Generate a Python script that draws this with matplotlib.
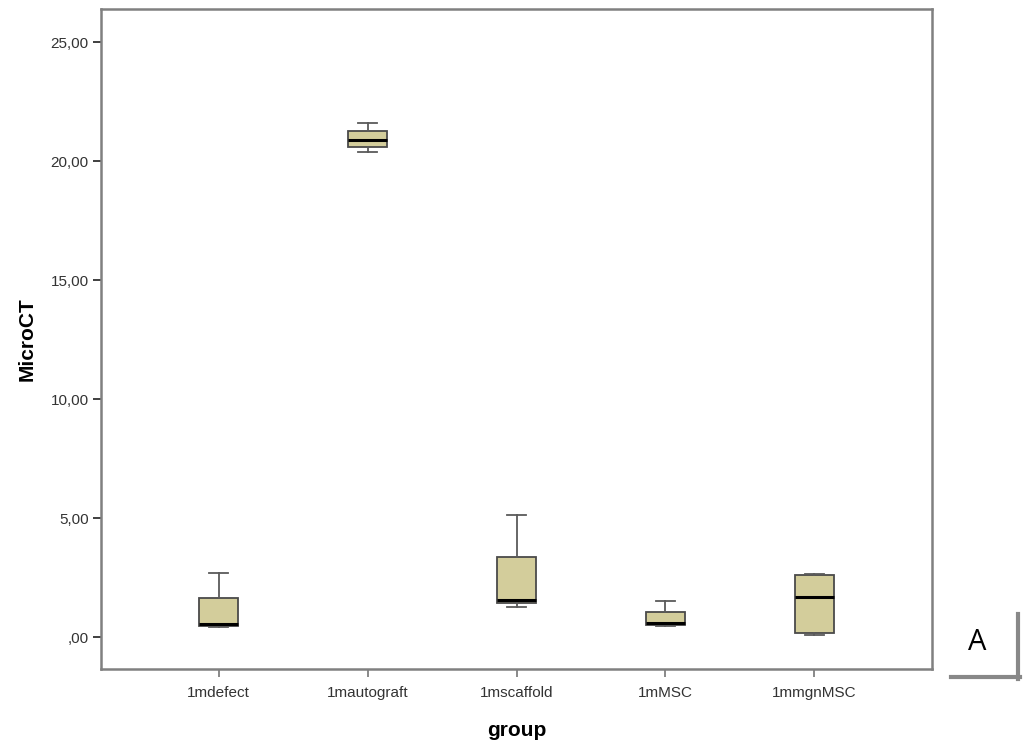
import matplotlib
matplotlib.use("Agg")
import matplotlib.pyplot as plt
from matplotlib.lines import Line2D

plt.rcParams["font.family"] = ["Liberation Sans", "DejaVu Sans"]

# five-number summaries per group (MicroCT)
groups   = ["1mdefect", "1mautograft", "1mscaffold", "1mMSC", "1mmgnMSC"]
whis_lo  = [0.42, 20.38, 1.26, 0.46, 0.08]
q1       = [0.47, 20.59, 1.45, 0.52, 0.17]
medians  = [0.55, 20.88, 1.55, 0.59, 1.68]
q3       = [1.64, 21.26, 3.36, 1.05, 2.60]
whis_hi  = [2.69, 21.60, 5.13, 1.51, 2.65]

y_ticks  = [0, 5, 10, 15, 20, 25]
y_labels = [",00", "5,00", "10,00", "15,00", "20,00", "25,00"]

FILL = "#d3cd9b"
EDGE = "#4a4a4a"
SPINE = "#808080"

stats = [
    dict(label=g, whislo=lo, q1=a, med=m, q3=b, whishi=hi, fliers=[])
    for g, lo, a, m, b, hi in zip(groups, whis_lo, q1, medians, q3, whis_hi)
]

fig = plt.figure(figsize=(10.29, 7.47), dpi=100)
ax = fig.add_axes([101 / 1029, 1 - 669 / 747, 831 / 1029, 660 / 747])

ax.bxp(
    stats, positions=range(len(groups)), widths=0.26, patch_artist=True,
    showfliers=False,
    boxprops=dict(facecolor=FILL, edgecolor=EDGE, linewidth=1.3),
    medianprops=dict(color="black", linewidth=2.2),
    whiskerprops=dict(color="#5a5a5a", linewidth=1.3),
    capprops=dict(color="#5a5a5a", linewidth=1.3),
    capwidths=0.13,
)

ax.set_xlim(-0.79, len(groups) - 1 + 0.79)
ax.set_ylim(-1.34, 26.4)
ax.set_yticks(y_ticks)
ax.set_yticklabels(y_labels)
ax.set_xticks(range(len(groups)))
ax.set_xticklabels(groups)

for s in ax.spines.values():
    s.set_color(SPINE)
    s.set_linewidth(1.8)
ax.tick_params(axis="both", direction="out", length=6, width=1.3, color="#303030",
               labelsize=11, labelcolor="#333333", pad=3)
ax.tick_params(axis="x", pad=6, color=SPINE)

ax.set_ylabel("MicroCT", fontsize=15, fontweight="bold", labelpad=10)
ax.set_xlabel("group", fontsize=15, fontweight="bold", labelpad=15)

# panel letter with its corner bracket
fig.text(977 / 1029, 1 - 643 / 747, "A", fontsize=21, ha="center", va="center",
         family=["Open Sans", "DejaVu Sans"])
fig.add_artist(Line2D([1018 / 1029, 1018 / 1029], [1 - 614 / 747, 1 - 679 / 747],
                      color="#888888", lw=3, transform=fig.transFigure))
fig.add_artist(Line2D([951 / 1029, 1020 / 1029], [1 - 677 / 747, 1 - 677 / 747],
                      color="#888888", lw=3, transform=fig.transFigure))

fig.savefig("out.png", dpi=100)
